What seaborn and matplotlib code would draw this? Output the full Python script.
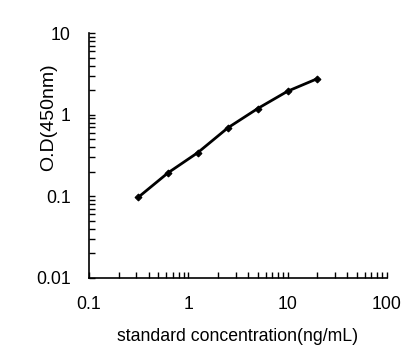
import matplotlib
matplotlib.use("Agg")
import matplotlib.pyplot as plt
import matplotlib.ticker as mticker
import seaborn as sns
import pandas as pd

concentration = [0.3125, 0.625, 1.25, 2.5, 5, 10, 20]
od_450 = [0.097, 0.194, 0.344, 0.69, 1.19, 1.94, 2.77]
x_ticks = [0.1, 1, 10, 100]
x_ticklabels = ["0.1", "1", "10", "100"]
y_ticks = [0.01, 0.1, 1, 10]
y_ticklabels = ["0.01", "0.1", "1", "10"]

sns.set_theme(style="white")
plt.rcParams["font.family"] = ["Liberation Sans", "DejaVu Sans"]

df = pd.DataFrame({"conc": concentration, "od": od_450})

fig = plt.figure(figsize=(4.12, 3.6), dpi=100)
ax = fig.add_axes([0.216, 0.228, 0.723, 0.680])
sns.lineplot(data=df, x="conc", y="od", ax=ax, color="black", linewidth=2.0,
             marker="D", markersize=3.5, markeredgecolor="black")
ax.set_xscale("log")
ax.set_yscale("log")
ax.set_xlim(0.1, 100)
ax.set_ylim(0.01, 10)
ax.set_xticks(x_ticks)
ax.set_xticklabels(x_ticklabels)
ax.set_yticks(y_ticks)
ax.set_yticklabels(y_ticklabels)
ax.xaxis.set_minor_locator(mticker.LogLocator(base=10, subs=range(2, 10)))
ax.yaxis.set_minor_locator(mticker.LogLocator(base=10, subs=range(2, 10)))
ax.xaxis.set_minor_formatter(mticker.NullFormatter())
ax.yaxis.set_minor_formatter(mticker.NullFormatter())
ax.tick_params(which="both", direction="in", length=4, width=1, color="black",
               bottom=True, left=True, labelsize=12.7, labelcolor="black")
ax.tick_params(axis="x", which="major", pad=13)
ax.tick_params(axis="y", which="major", pad=13)
for s in ["top", "right"]:
    ax.spines[s].set_visible(False)
for s in ["left", "bottom"]:
    ax.spines[s].set_color("black")
    ax.spines[s].set_linewidth(1.2)
ax.set_xlabel("standard concentration(ng/mL)", fontsize=12.7, color="black", labelpad=11)
ax.set_ylabel("O.D(450nm)", fontsize=14, color="black", va="center")
ax.yaxis.set_label_coords(-0.136, 0.655)
fig.savefig("out.png", dpi=100, facecolor="white")
